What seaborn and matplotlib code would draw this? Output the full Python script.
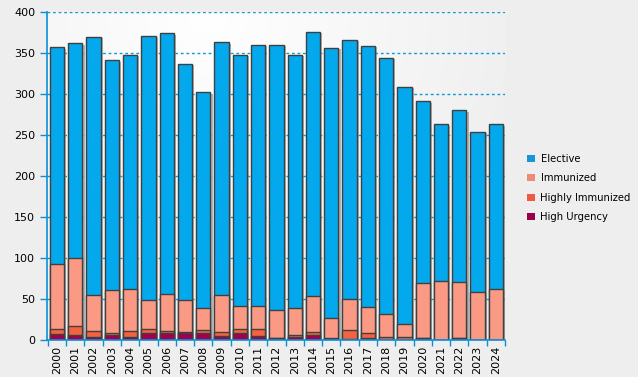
import numpy as np
import pandas as pd
import matplotlib
matplotlib.use("Agg")
import matplotlib.pyplot as plt
import matplotlib.patheffects as pe
from matplotlib.patches import Patch
import seaborn as sns

years = [str(y) for y in range(2000, 2025)]
elective = [264, 262, 315, 280, 286, 322, 318, 288, 263, 308, 306, 318, 323, 309, 322, 329, 316, 319, 312, 289, 221, 191, 209, 196, 201]
immunized = [79, 83, 44, 53, 51, 35, 45, 39, 27, 45, 29, 29, 35, 33, 44, 24, 38, 32, 28, 16, 68, 72, 69, 58, 62]
highly_immunized = [7, 11, 7, 2, 7, 5, 2, 1, 3, 5, 4, 8, 0, 2, 4, 2, 11, 6, 4, 4, 0, 0, 0, 0, 0]
high_urgency = [7, 6, 4, 6, 4, 9, 9, 9, 9, 5, 9, 5, 2, 4, 6, 1, 1, 2, 0, 0, 2, 0, 2, 0, 0]

series_names = ["Elective", "Immunized", "Highly Immunized", "High Urgency"]
colors = {"Elective": "#03a9ec", "Immunized": "#fb9a84",
          "Highly Immunized": "#f4623f", "High Urgency": "#a0004f"}
legend_colors = {"Elective": "#1a94d8", "Immunized": "#f08a78",
                 "Highly Immunized": "#f05a40", "High Urgency": "#99004c"}

df = pd.DataFrame({"year": years, "Elective": elective, "Immunized": immunized,
                   "Highly Immunized": highly_immunized, "High Urgency": high_urgency})
df["cum_HU"] = df["High Urgency"]
df["cum_HI"] = df["cum_HU"] + df["Highly Immunized"]
df["cum_IM"] = df["cum_HI"] + df["Immunized"]
df["cum_EL"] = df["cum_IM"] + df["Elective"]

fig = plt.figure(figsize=(6.38, 3.77), dpi=100)
fig.patch.set_facecolor("#eeeeee")
ax = fig.add_axes([47/638, 37/377, (505-47)/638, (340-12)/377])

gx = np.linspace(0, 1, 200)
gy = np.linspace(0, 1, 100)
X, Y = np.meshgrid(gx, gy)
d = np.sqrt(((X - 0.35) / 0.9) ** 2 + ((Y - 1.0) / 1.3) ** 2)
val = 1.0 - 0.08 * np.clip(d, 0, 1)
ax.imshow(np.dstack([val, val, val]), extent=[0, 1, 0, 1], transform=ax.transAxes,
          aspect="auto", zorder=0, origin="lower")

width = 0.78
layers = [("cum_EL", "Elective"), ("cum_IM", "Immunized"),
          ("cum_HI", "Highly Immunized"), ("cum_HU", "High Urgency")]
for i, (col, name) in enumerate(layers):
    n_before = len(ax.patches)
    sns.barplot(data=df, x="year", y=col, color=colors[name], saturation=1,
                width=width, edgecolor="#404040", linewidth=1.0, ax=ax, zorder=3)
    if i == 0:
        for p in ax.patches[n_before:]:
            p.set_path_effects([pe.SimplePatchShadow(offset=(1.5, -1), shadow_rgbFace="#888888", alpha=0.6),
                                pe.Normal()])

ax.set_xlim(-0.55, 24.45)
ax.set_ylim(0, 400)
ax.set_yticks(np.arange(0, 401, 50))
ax.set_xlabel("")
ax.set_ylabel("")
ax.set_xticks(range(len(years)))
ax.set_xticklabels(years, rotation=90, fontsize=8)
ax.set_xticks(np.arange(-0.5, len(years), 1), minor=True)
ax.tick_params(axis="x", which="major", length=0, pad=4)
ax.tick_params(axis="x", which="minor", length=4, color="#0a8fd8", width=1)
ax.tick_params(axis="y", which="major", length=5, color="#0a8fd8", width=1, labelsize=8, direction="out")
ax.yaxis.grid(True, linestyle=(0, (2, 2)), color="#0a9ad8", linewidth=1, zorder=1)
ax.set_axisbelow(True)
for s in ["top", "right"]:
    ax.spines[s].set_visible(False)
for s in ["left", "bottom"]:
    ax.spines[s].set_color("#0a8fd8")
    ax.spines[s].set_linewidth(1.2)
    ax.spines[s].set_zorder(5)

handles = [Patch(facecolor=legend_colors[n], edgecolor="none", label=n) for n in series_names]
fig.legend(handles=handles, loc="center left", bbox_to_anchor=(527/638, 1 - 188/377),
           frameon=False, fontsize=7.2, handlelength=0.75, handleheight=0.75,
           handletextpad=0.6, labelspacing=0.95, borderaxespad=0, borderpad=0)

fig.savefig("out.png", dpi=100, facecolor=fig.get_facecolor())
